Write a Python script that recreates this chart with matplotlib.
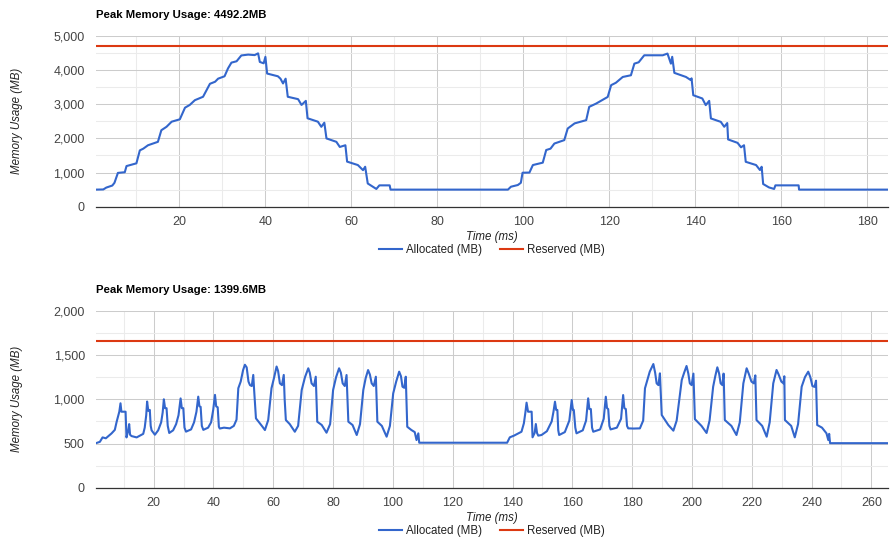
import numpy as np
import matplotlib
matplotlib.use("Agg")
import matplotlib.pyplot as plt
from matplotlib.ticker import MultipleLocator, FuncFormatter

plt.rcParams['font.family'] = ['Liberation Sans', 'DejaVu Sans']

BLUE = '#3366cc'
RED = '#dc3912'

# top chart: allocated memory (time ms, MB)
top_t = [0.6, 2.3, 3.0, 4.4, 4.9, 5.7, 6.5, 7.3, 7.7, 10.0, 10.8, 11.6, 12.7, 15.0,
         15.8, 17.0, 18.2, 20.1, 21.3, 22.4, 23.6, 25.5, 26.3, 27.1, 28.3, 29.0,
         30.5, 31.3, 32.1, 33.3, 34.4, 36.0, 37.5, 38.3, 38.7, 39.6, 40.0, 40.4,
         42.9, 43.5, 44.1, 44.7, 45.2, 47.6, 48.4, 49.4, 49.8, 52.2, 53.0, 53.7,
         54.2, 56.5, 57.3, 58.6, 59.0, 61.5, 62.7, 63.2, 63.8, 65.8, 66.5, 68.9,
         69.1, 96.4, 97.1, 98.7, 99.4, 99.8, 101.4, 102.2, 104.5, 105.3, 106.3,
         107.2, 109.5, 110.3, 111.9, 114.6, 115.3, 116.9, 119.6, 120.4, 121.5,
         123.1, 125.0, 125.8, 126.8, 128.1, 132.4, 133.5, 134.3, 134.6, 135.1,
         137.8, 138.9, 139.1, 139.5, 141.6, 142.4, 143.2, 143.6, 145.9, 146.7,
         147.4, 147.6, 149.8, 150.6, 151.3, 151.7, 154.1, 155.0, 155.4, 155.75,
         157.1, 158.3, 158.6, 164.0, 164.1, 184.8]
top_alloc = [500, 505, 560, 620, 700, 990, 1000, 1010, 1190, 1270, 1650, 1700, 1800, 1900,
             2240, 2340, 2490, 2560, 2900, 2980, 3120, 3220, 3410, 3600, 3660, 3750,
             3820, 4050, 4220, 4260, 4430, 4455, 4440, 4492, 4240, 4200, 4390, 3900,
             3820, 3750, 3610, 3750, 3220, 3150, 2980, 3100, 2590, 2490, 2340, 2460,
             2000, 1900, 1750, 1800, 1320, 1220, 1070, 1170, 680, 520, 625, 625,
             500, 500, 585, 635, 700, 995, 1000, 1220, 1290, 1660, 1700,
             1850, 1950, 2290, 2440, 2535, 2925, 3020, 3215, 3560, 3630,
             3800, 3850, 4190, 4230, 4435, 4435, 4485, 4190, 4390, 3920,
             3800, 3710, 3760, 3265, 3170, 2975, 3100, 2585, 2485, 2340,
             2450, 1970, 1870, 1740, 1800, 1315, 1220, 1075, 1170, 665,
             565, 520, 625, 625, 500, 500]
top_reserved = 4720
top_title = 'Peak Memory Usage: 4492.2MB'

# bottom chart: allocated memory (time ms, MB)
bot_t = [0.7, 2.0, 2.9, 4.0, 5.9, 7.0, 7.6, 8.5, 8.9, 9.2, 10.6, 10.9, 11.5, 11.8, 12.1,
         12.6, 14.3, 16.5, 17.0, 17.5, 17.8, 18.2, 18.7, 19.0, 19.3, 20.4, 21.5, 22.5,
         23.0, 23.4, 23.8, 24.3, 24.7, 25.2, 26.5, 27.5, 28.3, 29.0, 29.4, 29.9, 30.3,
         30.8, 32.5, 33.5, 34.3, 34.9, 35.3, 35.7, 36.1, 36.6, 38.2, 39.2, 39.9, 40.5,
         40.9, 41.4, 41.8, 42.1, 43.5, 45.5, 46.8, 47.7, 48.3, 49.1, 49.9, 50.5, 51.1,
         51.7, 52.2, 52.8, 53.3, 53.6, 54.2, 55.5, 56.4, 57.2, 58.3, 59.4, 60.3, 61.1,
         61.6, 62.2, 62.9, 63.5, 63.8, 64.2, 65.5, 67.2, 68.3, 69.5, 70.6, 71.7, 72.2,
         72.8, 73.6, 74.2, 74.7, 76.2, 77.8, 79.0, 80.0, 81.0, 82.0, 82.6, 83.2, 83.9,
         84.5, 85.1, 86.5, 87.9, 89.0, 90.1, 90.9, 91.7, 92.3, 92.9, 93.6, 94.3, 94.8,
         96.3, 97.9, 99.0, 100.1, 101.1, 102.1, 102.7, 103.2, 103.8, 104.3, 104.8,
         106.2, 107.3, 107.9, 108.5, 108.8, 138.2, 139.1, 140.5, 143.0, 143.8, 144.3,
         144.7, 145.2, 146.4, 146.7, 147.4, 147.8, 148.2, 148.6, 149.7, 151.5, 153.1,
         153.7, 154.2, 154.6, 155.0, 155.3, 155.6, 157.5, 159.0, 159.8, 160.2, 160.5,
         161.0, 161.4, 163.5, 164.6, 165.3, 165.7, 166.2, 166.6, 167.0, 169.3, 170.5,
         171.2, 171.6, 172.0, 172.4, 172.8, 174.9, 176.3, 177.0, 177.4, 177.9, 178.3,
         178.7, 180.5, 182.6, 183.7, 184.3, 185.1, 185.9, 187.1, 187.7, 188.2, 188.8,
         189.3, 189.6, 189.9, 192.1, 193.8, 194.9, 196.6, 197.4, 198.2, 198.8, 199.3,
         199.9, 200.5, 201.0, 203.2, 204.9, 205.9, 207.1, 207.8, 208.5, 209.1, 209.6,
         210.2, 210.6, 211.0, 213.2, 214.9, 216.0, 217.2, 218.3, 219.0, 219.9, 220.7,
         221.2, 221.6, 223.5, 225.0, 226.0, 227.2, 228.3, 229.0, 229.9, 230.6, 230.9,
         231.1, 233.2, 234.4, 235.5, 236.7, 237.8, 238.9, 239.6, 240.3, 241.0, 241.5,
         241.9, 243.5, 245.0, 245.6, 245.9, 246.2, 265.6]
bot_alloc = [505, 520, 570, 560, 615, 655, 745, 860, 955, 860, 860, 570, 650, 720, 600,
             585, 570, 610, 680, 820, 975, 870, 880, 700, 650, 600, 650, 740,
             850, 1000, 900, 900, 700, 620, 650, 720, 820, 1010, 900, 900, 680,
             635, 660, 740, 860, 1030, 920, 915, 700, 655, 680, 740, 880, 1050,
             920, 910, 690, 670, 680, 672, 700, 770, 1125, 1200, 1330, 1390, 1360,
             1200, 1160, 1150, 1275, 1100, 785, 730, 690, 653, 766, 1125, 1250, 1370,
             1320, 1180, 1160, 1275, 1000, 766, 720, 634, 700, 1105, 1250, 1350, 1300,
             1180, 1150, 1255, 747, 710, 623, 720, 1105, 1250, 1350, 1300, 1180, 1150,
             1274, 747, 710, 597, 720, 1105, 1240, 1330, 1280, 1180, 1150, 1255, 747,
             700, 578, 700, 1067, 1200, 1312, 1260, 1142, 1130, 1255, 690,
             653, 630, 540, 616, 510, 510, 571, 590, 634, 729, 850,
             962, 860, 860, 571, 620, 721, 620, 590, 597, 640, 750,
             860, 973, 880, 880, 650, 597, 630, 760, 992, 880, 880,
             680, 616, 650, 760, 1011, 890, 890, 680, 634, 660, 780,
             1029, 900, 890, 700, 660, 680, 780, 1048, 900, 890, 700,
             672, 670, 672, 760, 1124, 1220, 1312, 1398, 1300, 1180, 1160,
             1293, 1050, 823, 710, 646, 760, 1218, 1300, 1376, 1290, 1180,
             1160, 1290, 776, 700, 620, 760, 1142, 1260, 1361, 1290, 1180,
             1160, 1290, 766, 700, 597, 740, 1180, 1350, 1290, 1200, 1180,
             1270, 766, 700, 578, 740, 1180, 1331, 1280, 1200, 1180, 1260,
             766, 700, 571, 720, 1142, 1250, 1312, 1250, 1150, 1140, 1210,
             710, 680, 616, 540, 610, 505, 505]
bot_reserved = 1655
bot_title = 'Peak Memory Usage: 1399.6MB'

FS = 8.3


def draw(ax, t, alloc, reserved, title, ymax, ymajor, xmajor):
    ax.plot(t, alloc, color=BLUE, lw=1.5, zorder=3, label='Allocated (MB)')
    ax.plot([t[0], t[-1]], [reserved, reserved], color=RED, lw=1.5, zorder=3,
            label='Reserved (MB)')
    ax.set_xlim(t[0], t[-1])
    ax.set_ylim(0, ymax)
    ax.xaxis.set_major_locator(MultipleLocator(xmajor))
    ax.xaxis.set_minor_locator(MultipleLocator(xmajor / 2))
    ax.yaxis.set_major_locator(MultipleLocator(ymajor))
    ax.yaxis.set_minor_locator(MultipleLocator(ymajor / 2))
    ax.yaxis.set_major_formatter(FuncFormatter(lambda v, p: f'{int(v):,}'))
    ax.grid(which='major', color='#cccccc', lw=0.75)
    ax.grid(which='minor', color='#ebebeb', lw=0.75)
    ax.set_axisbelow(True)
    for s in ['top', 'right', 'left']:
        ax.spines[s].set_visible(False)
    ax.spines['bottom'].set_color('#333333')
    ax.spines['bottom'].set_linewidth(0.9)
    ax.spines['bottom'].set_zorder(4)
    ax.tick_params(which='both', length=0, colors='#444444', labelsize=9)
    ax.tick_params(axis='y', pad=8)
    ax.tick_params(axis='x', pad=6.5)
    ax.set_xlabel('Time (ms)', style='italic', color='#222222', fontsize=FS, labelpad=2)
    ax.set_ylabel('Memory Usage (MB)', style='italic', color='#222222', fontsize=FS,
                  labelpad=22)
    ax.annotate(title, xy=(0, 1), xycoords='axes fraction', xytext=(0, 11.5),
                textcoords='offset points', fontsize=8.2, fontweight='bold',
                ha='left', va='bottom')


fig = plt.figure(figsize=(8.92, 5.38), dpi=100)
ax1 = fig.add_axes([0.1076, 0.6158, 0.888, 0.3173])
ax2 = fig.add_axes([0.1076, 0.0931, 0.888, 0.3294])

draw(ax1, top_t, top_alloc, top_reserved, top_title, 5000, 1000, 20)
draw(ax2, bot_t, bot_alloc, bot_reserved, bot_title, 2000, 500, 20)

for ax, y in [(ax1, 1 - 250 / 538), (ax2, 1 - 531 / 538)]:
    h, l = ax.get_legend_handles_labels()
    fig.legend(h, l, loc='center', bbox_to_anchor=(492 / 892, y), ncol=2,
               frameon=False, fontsize=FS, handlelength=2.0, columnspacing=1.5,
               handletextpad=0.4, labelcolor='#222222')

fig.savefig('out.png', dpi=100)
